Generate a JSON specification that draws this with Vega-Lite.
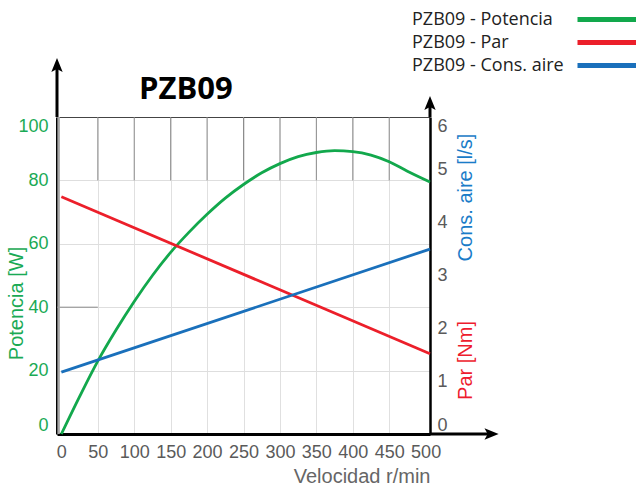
{
  "$schema": "https://vega.github.io/schema/vega-lite/v6.json",
  "width": 373,
  "height": 317,
  "autosize": {"type": "none"},
  "padding": {"left": 57, "top": 117, "right": 206, "bottom": 57},
  "background": "white",
  "config": {"view": {"stroke": null}, "font": "Liberation Sans"},
  "title": {"text": "PZB09", "anchor": "start", "frame": "group", "dx": 82, "fontSize": 31, "font": "Open Sans", "fontWeight": 700, "color": "#000000", "offset": -99},
  "datasets": {
    "potencia": [
      {"n": 0, "p": 0, "serie": "PZB09 - Potencia"},
      {"n": 25, "p": 11.8, "serie": "PZB09 - Potencia"},
      {"n": 50, "p": 23, "serie": "PZB09 - Potencia"},
      {"n": 75, "p": 32.8, "serie": "PZB09 - Potencia"},
      {"n": 100, "p": 41.8, "serie": "PZB09 - Potencia"},
      {"n": 125, "p": 50, "serie": "PZB09 - Potencia"},
      {"n": 150, "p": 57.3, "serie": "PZB09 - Potencia"},
      {"n": 175, "p": 63.6, "serie": "PZB09 - Potencia"},
      {"n": 200, "p": 69.3, "serie": "PZB09 - Potencia"},
      {"n": 225, "p": 74.4, "serie": "PZB09 - Potencia"},
      {"n": 250, "p": 78.7, "serie": "PZB09 - Potencia"},
      {"n": 275, "p": 82.4, "serie": "PZB09 - Potencia"},
      {"n": 300, "p": 85.3, "serie": "PZB09 - Potencia"},
      {"n": 325, "p": 87.5, "serie": "PZB09 - Potencia"},
      {"n": 350, "p": 88.8, "serie": "PZB09 - Potencia"},
      {"n": 375, "p": 89.4, "serie": "PZB09 - Potencia"},
      {"n": 400, "p": 89.1, "serie": "PZB09 - Potencia"},
      {"n": 425, "p": 88, "serie": "PZB09 - Potencia"},
      {"n": 450, "p": 85.9, "serie": "PZB09 - Potencia"},
      {"n": 475, "p": 82.9, "serie": "PZB09 - Potencia"},
      {"n": 506, "p": 79.5, "serie": "PZB09 - Potencia"}
    ],
    "par": [
      {"n": 0, "t": 4.49, "serie": "PZB09 - Par"},
      {"n": 506, "t": 1.52, "serie": "PZB09 - Par"}
    ],
    "aire": [
      {"n": 0, "q": 1.17, "serie": "PZB09 - Cons. aire"},
      {"n": 506, "q": 3.5, "serie": "PZB09 - Cons. aire"}
    ],
    "rejilla": [
      {"x": 50, "x2": 50, "y": 80, "y2": 100},
      {"x": 100, "x2": 100, "y": 80, "y2": 100},
      {"x": 150, "x2": 150, "y": 80, "y2": 100},
      {"x": 200, "x2": 200, "y": 80, "y2": 100},
      {"x": 250, "x2": 250, "y": 80, "y2": 100},
      {"x": 300, "x2": 300, "y": 80, "y2": 100},
      {"x": 350, "x2": 350, "y": 80, "y2": 100},
      {"x": 400, "x2": 400, "y": 80, "y2": 100},
      {"x": 450, "x2": 450, "y": 80, "y2": 100},
      {"x": -6, "x2": 50, "y": 40, "y2": 40}
    ],
    "sombra": [
      {"x": -3.8, "x2": -3.8, "y": 0, "y2": 100}
    ],
    "ejes": [
      {"x": -6, "x2": -6, "y": 100, "y2": 116},
      {"x": 506, "x2": 506, "y": 100, "y2": 104},
      {"x": 506, "x2": 592, "y": 0, "y2": 0}
    ],
    "puntas": [
      {"x": -6, "y": 116.4, "dir": "arriba"},
      {"x": 506, "y": 104.4, "dir": "arriba"},
      {"x": 590.5, "y": 0, "dir": "derecha"}
    ]
  },
  "layer": [
    {
      "layer": [
        {
          "data": {"name": "rejilla"},
          "mark": {"type": "rule", "color": "#8c8c8c", "strokeWidth": 1},
          "encoding": {
            "x": {"field": "x", "type": "quantitative", "title": "Velocidad r/min", "axis": {"values": [0, 50, 100, 150, 200, 250, 300, 350, 400, 450, 500]}},
            "x2": {"field": "x2"},
            "y": {"field": "y", "type": "quantitative", "title": "Potencia [W]", "axis": {"values": [0, 20, 40, 60, 80, 100]}},
            "y2": {"field": "y2"}
          }
        },
        {
          "data": {"name": "sombra"},
          "mark": {"type": "rule", "color": "#a6a6a6", "strokeWidth": 2.5},
          "encoding": {
            "x": {"field": "x", "type": "quantitative", "title": "Velocidad r/min", "axis": {"values": [0, 50, 100, 150, 200, 250, 300, 350, 400, 450, 500]}},
            "x2": {"field": "x2"},
            "y": {"field": "y", "type": "quantitative", "title": "Potencia [W]", "axis": {"values": [0, 20, 40, 60, 80, 100]}},
            "y2": {"field": "y2"}
          }
        },
        {
          "data": {"name": "potencia"},
          "mark": {"type": "line", "strokeWidth": 2.8, "interpolate": "monotone"},
          "encoding": {
            "x": {
              "field": "n", "type": "quantitative",
              "scale": {"domain": [-6, 506], "nice": false, "zero": false},
              "axis": {
                "title": "Velocidad r/min",
                "values": [0, 50, 100, 150, 200, 250, 300, 350, 400, 450, 500],
                "grid": true,
                "gridColor": "#e0e0e0",
                "gridOpacity": {"condition": {"test": "datum.value == 0 || datum.value == 500", "value": 0}, "value": 1},
                "ticks": false,
                "domainColor": "#000000",
                "domainWidth": 3,
                "labelFont": "Liberation Sans",
                "labelFontSize": 18,
                "labelColor": "#5a5a5a",
                "labelPadding": 9,
                "labelOverlap": false,
                "labelFlush": false,
                "titleFont": "Liberation Sans",
                "titleFontSize": 20,
                "titleFontWeight": "normal",
                "titleColor": "#666666",
                "titleAnchor": "end",
                "titlePadding": 5
              }
            },
            "y": {
              "field": "p", "type": "quantitative",
              "scale": {"domain": [0, 100], "nice": false},
              "axis": {
                "title": "Potencia [W]",
                "values": [0, 20, 40, 60, 80, 100],
                "grid": true,
                "gridColor": {"condition": {"test": "datum.value == 100", "value": "#444444"}, "value": "#dedede"},
                "ticks": false,
                "domainColor": "#000000",
                "domainWidth": 3,
                "labelFont": "Liberation Sans",
                "labelFontSize": 18,
                "labelColor": "#1aaa55",
                "labelPadding": 9,
                "labelFlush": true,
                "labelOverlap": false,
                "titleFont": "Liberation Sans",
                "titleFontSize": 20,
                "titleFontWeight": "normal",
                "titleColor": "#1aaa55",
                "titleX": -41,
                "titleY": 186,
                "titleAngle": 270,
                "titleAlign": "center",
                "titleBaseline": "middle"
              }
            },
            "color": {
              "field": "serie", "type": "nominal",
              "scale": {"domain": ["PZB09 - Potencia", "PZB09 - Par", "PZB09 - Cons. aire"], "range": ["#12a84c", "#ec1f2a", "#1a70bb"]},
              "legend": {
                "orient": "none",
                "legendX": 350,
                "legendY": -110,
                "title": null,
                "symbolType": "M-3,0L3,0",
                "symbolStrokeWidth": 5,
                "symbolSize": 400,
                "symbolOffset": 188,
                "labelOffset": -208,
                "labelFont": "Open Sans",
                "labelFontSize": 18,
                "labelColor": "#222222",
                "labelLimit": 300,
                "rowPadding": -2,
                "padding": 0
              }
            }
          }
        },
        {
          "data": {"name": "ejes"},
          "mark": {"type": "rule", "color": "#000000", "strokeWidth": 3},
          "encoding": {
            "x": {"field": "x", "type": "quantitative", "title": "Velocidad r/min", "axis": {"values": [0, 50, 100, 150, 200, 250, 300, 350, 400, 450, 500]}},
            "x2": {"field": "x2"},
            "y": {"field": "y", "type": "quantitative", "title": "Potencia [W]", "axis": {"values": [0, 20, 40, 60, 80, 100]}},
            "y2": {"field": "y2"}
          }
        },
        {
          "data": {"name": "puntas"},
          "mark": {"type": "point", "filled": true, "color": "#000000", "opacity": 1, "size": 200, "strokeWidth": 0},
          "encoding": {
            "x": {"field": "x", "type": "quantitative", "title": "Velocidad r/min", "axis": {"values": [0, 50, 100, 150, 200, 250, 300, 350, 400, 450, 500]}},
            "y": {"field": "y", "type": "quantitative", "title": "Potencia [W]", "axis": {"values": [0, 20, 40, 60, 80, 100]}},
            "shape": {
              "field": "dir", "type": "nominal",
              "scale": {"domain": ["arriba", "derecha"], "range": ["M-0.8,1 L0,-1 L0.8,1 L0,0.55 Z", "M-1,-0.8 L1,0 L-1,0.8 L-0.55,0 Z"]},
              "legend": null
            }
          }
        }
      ]
    },
    {
      "layer": [
        {
          "data": {"name": "par"},
          "mark": {"type": "line", "strokeWidth": 2.8},
          "encoding": {
            "x": {"field": "n", "type": "quantitative", "title": "Velocidad r/min", "axis": {"values": [0, 50, 100, 150, 200, 250, 300, 350, 400, 450, 500]}},
            "y": {
              "field": "t", "type": "quantitative",
              "scale": {"domain": [0, 6], "nice": false},
              "axis": {
                "orient": "right",
                "title": "Par [Nm]",
                "values": [0, 1, 2, 3, 4, 5, 6],
                "grid": false,
                "ticks": false,
                "domainColor": "#000000",
                "domainWidth": 2.5,
                "labelFont": "Liberation Sans",
                "labelFontSize": 18,
                "labelColor": "#5a5a5a",
                "labelPadding": 7,
                "labelFlush": true,
                "labelOverlap": false,
                "titleFont": "Liberation Sans",
                "titleFontSize": 20,
                "titleFontWeight": "normal",
                "titleColor": "#ee1c2e",
                "titleX": 35,
                "titleY": 243,
                "titleAngle": 270,
                "titleAlign": "center",
                "titleBaseline": "middle"
              }
            },
            "color": {"field": "serie", "type": "nominal"}
          }
        },
        {
          "data": {"name": "aire"},
          "mark": {"type": "line", "strokeWidth": 2.8},
          "encoding": {
            "x": {"field": "n", "type": "quantitative", "title": "Velocidad r/min", "axis": {"values": [0, 50, 100, 150, 200, 250, 300, 350, 400, 450, 500]}},
            "y": {
              "field": "q", "type": "quantitative",
              "scale": {"domain": [0, 6], "nice": false},
              "axis": {
                "orient": "right",
                "title": "Cons. aire [l/s]",
                "labels": false,
                "grid": false,
                "ticks": false,
                "domain": false,
                "titleFont": "Liberation Sans",
                "titleFontSize": 20,
                "titleFontWeight": "normal",
                "titleColor": "#1a7cc8",
                "titleX": 35,
                "titleY": 80,
                "titleAngle": 270,
                "titleAlign": "center",
                "titleBaseline": "middle"
              }
            },
            "color": {"field": "serie", "type": "nominal"}
          }
        }
      ],
      "resolve": {"axis": {"y": "independent"}}
    }
  ],
  "resolve": {"scale": {"y": "independent"}}
}
